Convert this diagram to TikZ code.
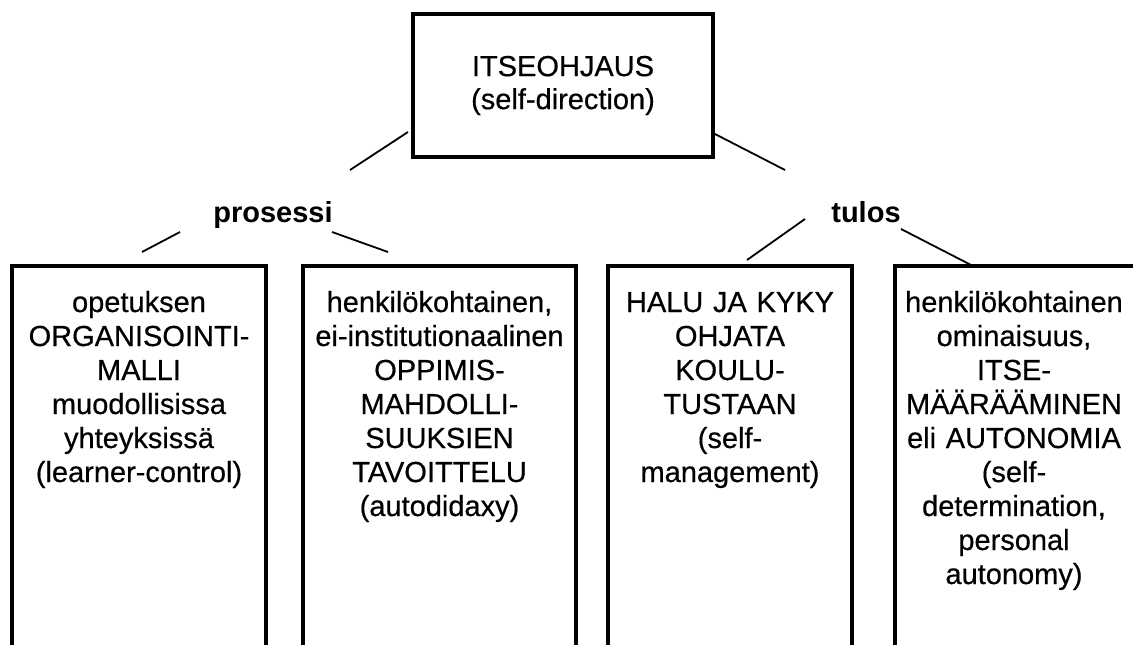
\documentclass[tikz,border=0pt]{standalone}
\usepackage{fontspec}
\setmainfont{Liberation Sans}
\newfontfamily\scanfont{Liberation Sans}[FakeBold=0.5]
\begin{document}
\begin{tikzpicture}[x=1pt,y=-1pt,
  boxline/.style={line width=4.6pt,line join=miter},
  conn/.style={line width=1.8pt},
  boxtext/.style={text width=290pt,align=center,anchor=base,inner sep=0pt,
    font=\scanfont\fontsize{29}{34}\selectfont},
  lbl/.style={anchor=base,inner sep=0pt,font=\fontsize{29}{34}\selectfont\bfseries},
  topbox/.style={draw,line width=4.4pt,minimum width=300pt,minimum height=143pt,
    align=center,font=\scanfont\fontsize{29}{33}\selectfont}]
\useasboundingbox (0,0) rectangle (1133,645);
\clip (0,0) rectangle (1133,645);
% top node
\node[topbox] (top) at (563,85.5) {ITSEOHJAUS\\(self-direction)};
% labels
\node[lbl] (pros) at (273,222) {prosessi};
\node[lbl] (tul) at (866,222) {tulos};
% connector end points
\coordinate (tl1) at (408,132); \coordinate (tl2) at (350,170);
\coordinate (tr1) at (713,133); \coordinate (tr2) at (785,170);
\coordinate (pl1) at (180,232); \coordinate (pl2) at (142,252);
\coordinate (pr1) at (332,232); \coordinate (pr2) at (388,252);
\coordinate (ul1) at (805,219); \coordinate (ul2) at (747,260);
\coordinate (ur1) at (901,229); \coordinate (ur2) at (973,266);
\draw[conn] (tl1) -- (tl2);
\draw[conn] (tr1) -- (tr2);
\draw[conn] (pl1) -- (pl2);
\draw[conn] (pr1) -- (pr2);
\draw[conn] (ul1) -- (ul2);
\draw[conn] (ur1) -- (ur2);
% open boxes
\draw[boxline] (12,660) |- (266,266) -- (266,660);
\draw[boxline] (303,660) |- (576,266) -- (576,660);
\draw[boxline] (608,660) |- (852,266) -- (852,660);
\draw[boxline] (895,660) |- (1150,266);
% box texts
\node[boxtext] (b1) at (139,312) {opetuksen\\ORGANISOINTI-\\MALLI\\muodollisissa\\yhteyksissä\\(learner-control)};
\node[boxtext] (b2) at (439.5,312) {henkilökohtainen,\\ei-institutionaalinen\\OPPIMIS-\\MAHDOLLI-\\SUUKSIEN\\TAVOITTELU\\(autodidaxy)};
\node[boxtext] (b3) at (730,312) {HALU JA KYKY\\OHJATA\\KOULU-\\TUSTAAN\\(self-\\management)};
\node[boxtext] (b4) at (1014,312) {henkilökohtainen\\ominaisuus,\\ITSE-\\MÄÄRÄÄMINEN\\eli AUTONOMIA\\(self-\\determination,\\personal\\autonomy)};
\end{tikzpicture}
\end{document}
